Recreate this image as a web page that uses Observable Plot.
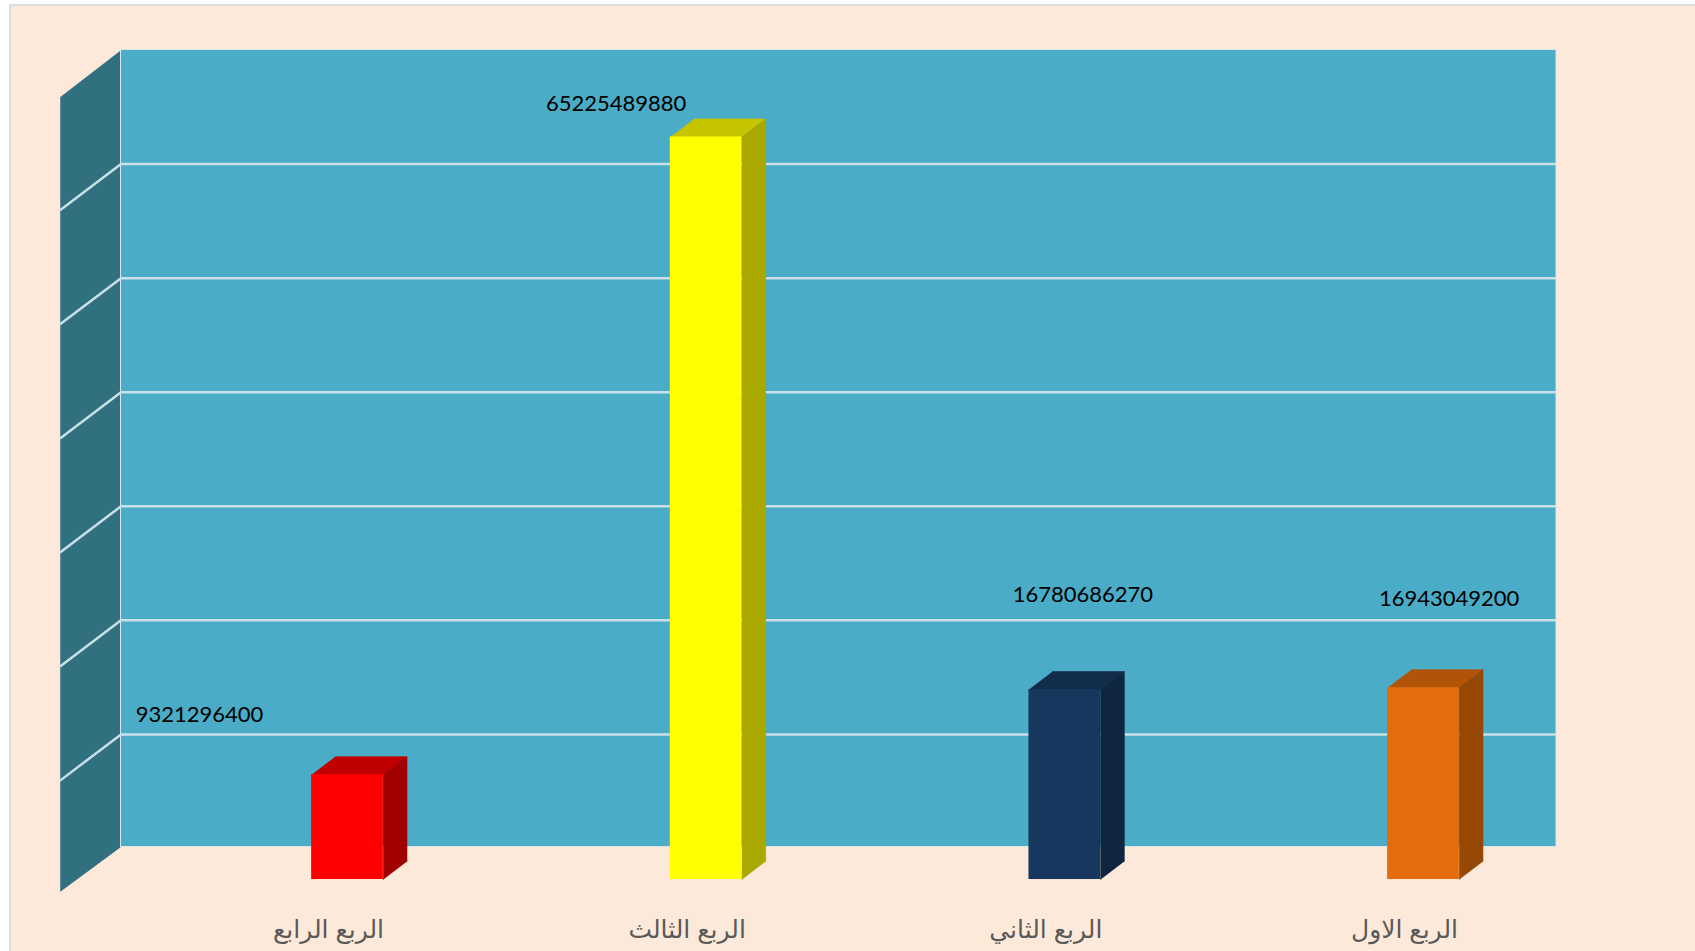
<!DOCTYPE html>
<html lang="ar">
<head>
<meta charset="utf-8">
<script src="https://cdn.jsdelivr.net/npm/d3@7"></script>
<script src="https://cdn.jsdelivr.net/npm/@observablehq/plot@0.6"></script>
<style>
  html, body { margin: 0; padding: 0; background: #fff; overflow: hidden; }
  #panel { position: absolute; left: 9px; top: 4px; width: 1800px; height: 1100px;
           background: #FDE9D9; border: 2px solid #DCDCDC; box-sizing: border-box; }
  #chart { position: absolute; left: 0; top: 0; }
  #chart svg { display: block; }
</style>
</head>
<body>
<div id="panel"></div>
<div id="chart"></div>
<script>
const categories = ["الربع الرابع", "الربع الثالث", "الربع الثاني", "الربع الاول"];
const values = [9321296400, 65225489880, 16780686270, 16943049200];
const gridTicks = [1e10, 2e10, 3e10, 4e10, 5e10, 6e10];
const frontColors = ["#FF0000", "#FFFF00", "#17375E", "#E46C0A"];
const topColors = ["#C00000", "#C4C400", "#122C4C", "#B25407"];
const sideColors = ["#A00000", "#A8A800", "#0F2540", "#974806"];

const yTop = 7e10;
const xMin = -0.6315, xMax = 3.3709;
const barHalf = 0.1, barDepthX = 0.0659, barDepthY = 1.58e9;
const wallDepthX = 0.170, wallDepthY = 4.05e9;
const floorBase = 1.3e8;
const barShift = 32.5;
const labelDx = [-148, -90, 18, 25.6];
const labelDy = [-27.2, -0.7, -62.6, -56.3];

const rows = values.map((v, i) => ({i, v}));
const faces = rows.flatMap(({i, v}) => {
  const l = i - barHalf, r = i + barHalf, xd = barDepthX, yd = barDepthY;
  return [
    [[l, v], [r, v], [r + xd, v + yd], [l + xd, v + yd]].map(([x, y]) => ({x, y, z: "t" + i, fill: topColors[i]})),
    [[r, floorBase], [r, v], [r + xd, v + yd], [r + xd, floorBase + yd]].map(([x, y]) => ({x, y, z: "s" + i, fill: sideColors[i]}))
  ];
}).flat();
const sideWall = [
  {x: xMin, y: floorBase}, {x: xMin, y: yTop},
  {x: xMin - wallDepthX, y: yTop - wallDepthY - 7e7}, {x: xMin - wallDepthX, y: floorBase - wallDepthY + 1e8}
];

const plot = Plot.plot({
  width: 1695, height: 951,
  marginLeft: 120.5, marginRight: 139, marginTop: 49.5, marginBottom: 103,
  style: {background: "transparent"},
  x: {domain: [xMin, xMax], axis: null},
  y: {domain: [0, yTop], axis: null},
  color: {type: "identity"},
  marks: [
    Plot.line(sideWall, {x: "x", y: "y", fill: "#31707F", stroke: "#E4E4E4", strokeWidth: 1, strokeOpacity: 0.5}),
    Plot.rect([0], {x1: xMin, x2: xMax, y1: floorBase, y2: yTop, fill: "#4AACC6", stroke: "#DCE6EA", strokeWidth: 1}),
    Plot.ruleY(gridTicks, {x1: xMin, x2: xMax, stroke: "#C8E0E8", strokeWidth: 2.5}),
    Plot.link(gridTicks, {x1: xMin, y1: d => d, x2: xMin - wallDepthX, y2: d => d - wallDepthY, stroke: "#C8E0E8", strokeWidth: 2.5}),
    Plot.line(faces, {x: "x", y: "y", z: "z", fill: "fill", stroke: "fill", strokeWidth: 0.6, dy: barShift}),
    Plot.rect(rows, {x1: d => d.i - barHalf, x2: d => d.i + barHalf, y1: floorBase, y2: "v", fill: d => frontColors[d.i], dy: barShift}),
    ...rows.map(d => Plot.text([d], {
      x: "i", y: "v", text: r => String(r.v),
      dx: labelDx[d.i], dy: labelDy[d.i],
      fontFamily: "Lato", fontSize: 22, fill: "#000"
    })),
    Plot.axisX({
      ticks: [0, 1, 2, 3], tickFormat: i => categories[i],
      tickSize: 0, tickPadding: 72, dx: -19,
      fontFamily: "Liberation Sans, 'DejaVu Sans', sans-serif", fontSize: 25, fill: "#595959", label: null
    })
  ]
});
document.getElementById("chart").appendChild(plot);
</script>
</body>
</html>
